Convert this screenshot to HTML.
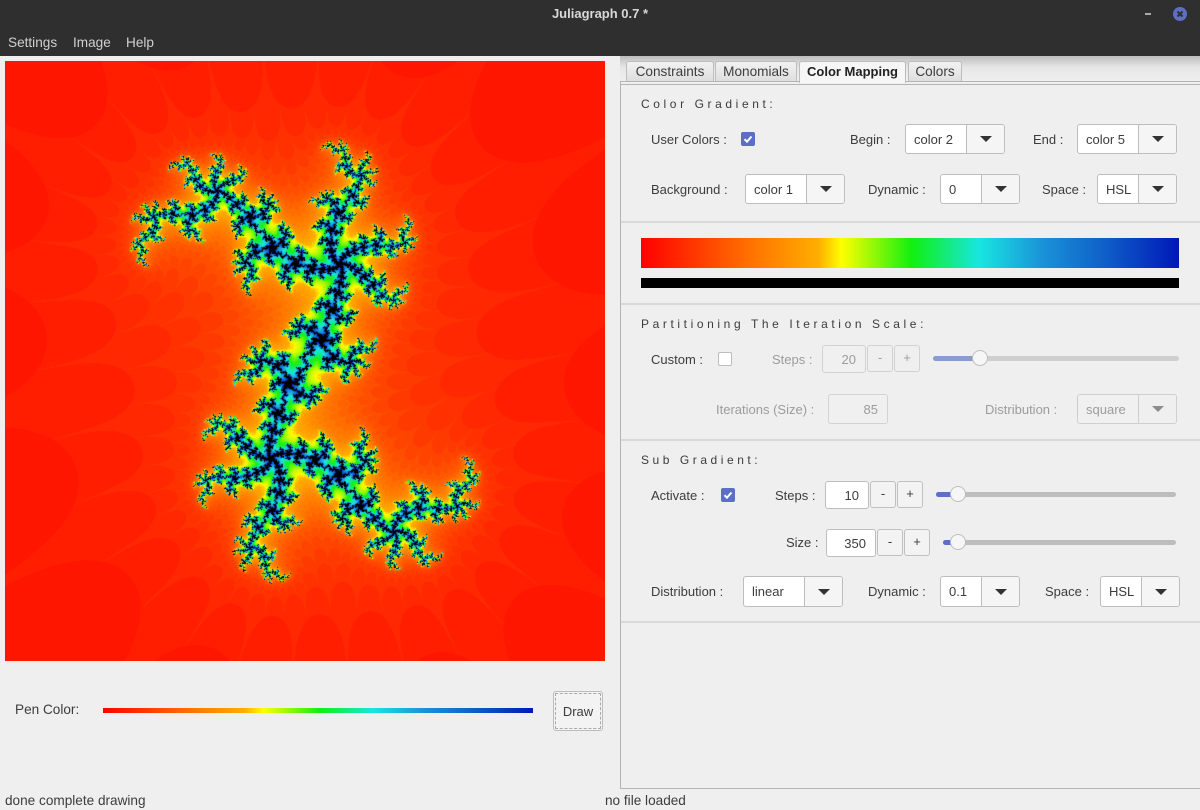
<!DOCTYPE html>
<html><head><meta charset="utf-8"><title>Juliagraph</title>
<style>
html,body{margin:0;padding:0;background:#efefef;width:1200px;height:810px;overflow:hidden}
body{position:relative;font-family:"Liberation Sans","DejaVu Sans",sans-serif;font-size:13px;color:#3c3c3c}
.a{position:absolute}
.t{position:absolute;white-space:nowrap;line-height:16px;transform:translateY(-7px)}
.g{color:#9c9c9c}
.h{position:absolute;white-space:nowrap;line-height:16px;transform:translateY(-7px);left:641px;color:#3c3c3c;font-size:12px}
.sep{position:absolute;left:621px;width:579px;height:2px;background:#d9d9d9}
.combo{position:absolute;box-sizing:border-box;border:1px solid #bdbdbd;border-radius:3px;background:#fff;line-height:30px;padding-left:8px;overflow:hidden}
.combo i{position:absolute;top:0;bottom:0;right:0;background:#f5f5f5;border-left:1px solid #bdbdbd}
.combo i:after{content:"";position:absolute;left:50%;top:50%;margin:-3px 0 0 -6px;border:6px solid transparent;border-top:6px solid #333;border-bottom:0}
.combo.d{background:#f0f0f0;color:#9c9c9c;border-color:#cfcfcf}
.combo.d i{background:#efefef;border-color:#cfcfcf}
.combo.d i:after{border-top-color:#8c8c8c}
.inp{position:absolute;box-sizing:border-box;border:1px solid #bdbdbd;border-radius:3px;background:#fff;text-align:right;padding-right:9px;line-height:28px}
.inp.d{background:#f0f0f0;color:#9c9c9c;border-color:#d2d2d2}
.btn{position:absolute;box-sizing:border-box;border:1px solid #c0c0c0;border-radius:3px;background:#f3f3f3;text-align:center;line-height:23px}
.btn.d{color:#9c9c9c;border-color:#d2d2d2;background:#efefef}
.tab{position:absolute;top:61px;height:20px;box-sizing:border-box;border:1px solid #bdbdbd;border-bottom:0;border-radius:3px 3px 0 0;background:linear-gradient(#f2f2f2,#dedede);text-align:center;line-height:19px}
.grv{position:absolute;height:5px;border-radius:3px}
.knob{position:absolute;box-sizing:border-box;width:16px;height:16px;border-radius:50%;background:#f6f6f6;border:1px solid #bdbdbd}
.chk{position:absolute;width:14px;height:14px;box-sizing:border-box;border-radius:2px}
.chk.on{background:#5c6fc4}
.chk.off{background:#fff;border:1px solid #bdbdbd}
.grad{background:linear-gradient(90deg,#ff0000 0,#ff7000 20%,#ffae00 33%,#ffff00 37.3%,#10f010 50.4%,#18e6e0 62.8%,#1a90d8 75%,#0f60c8 86%,#0018b8 100%)}
.m{font-size:13.6px}
</style></head>
<body>

<div class="a" style="left:0;top:0;width:1200px;height:56px;background:#2f2f2f"></div>
<div class="t" style="left:0;width:1200px;text-align:center;top:13px;color:#d8d8d8;font-weight:bold">Juliagraph 0.7 *</div>
<div class="a" style="left:1145px;top:13px;width:6px;height:2px;background:#aaa"></div>
<svg class="a" style="left:1172px;top:6px" width="16" height="16"><circle cx="8" cy="8" r="7" fill="#5c6fc4"/><path d="M5.5 5.5L10.5 10.5M10.5 5.5L5.5 10.5" stroke="#2f2f2f" stroke-width="2"/></svg>
<div class="t m" style="left:8px;top:42px;color:#d0d0d0">Settings</div>
<div class="t m" style="left:73px;top:42px;color:#d0d0d0">Image</div>
<div class="t m" style="left:126px;top:42px;color:#d0d0d0">Help</div>

<canvas id="fractal" class="a" style="left:5px;top:61px" width="600" height="600"></canvas>

<div class="t m" style="left:15px;top:709px">Pen Color:</div>
<div class="a grad" style="left:103px;top:708px;width:430px;height:5px"></div>
<div class="a" style="left:553px;top:691px;width:50px;height:40px;box-sizing:border-box;border:1px solid #bdbdbd;border-radius:3px;background:#f3f3f3;text-align:center;line-height:40px;outline:1px dashed #aaa;outline-offset:-3px">Draw</div>
<div class="t m" style="left:5px;top:800px">done complete drawing</div>
<div class="t m" style="left:605px;top:800px">no file loaded</div>

<div class="a" style="left:620px;top:56px;width:580px;height:25px;background:linear-gradient(#bdbdbd,#e6e6e6 45%,#efefef)"></div>
<div class="a" style="left:620px;top:81px;width:580px;height:708px;box-sizing:border-box;border:1px solid #b4b4b4;border-right:0"></div>
<div class="a" style="left:620px;top:84px;width:580px;height:1px;background:#b4b4b4"></div>
<div class="tab m" style="left:626px;width:88px">Constraints</div>
<div class="tab m" style="left:715px;width:82px">Monomials</div>
<div class="tab" style="left:799px;width:107px;background:#f6f6f6;font-weight:bold;color:#222;height:22px">Color Mapping</div>
<div class="tab m" style="left:908px;width:54px">Colors</div>

<div class="h" style="top:103px;letter-spacing:3.6px">Color Gradient:</div>
<div class="t" style="left:651px;top:139px">User Colors :</div>
<svg class="chk on" style="left:741px;top:132px" viewBox="0 0 14 14"><path d="M3.5 7.2L6 9.7L10.5 4.5" fill="none" stroke="#fff" stroke-width="2"/></svg>
<div class="t" style="left:850px;top:139px">Begin :</div>
<div class="combo" style="left:905px;top:124px;width:100px;height:30px">color 2<i style="width:37px"></i></div>
<div class="t" style="left:1033px;top:139px">End :</div>
<div class="combo" style="left:1077px;top:124px;width:100px;height:30px">color 5<i style="width:37px"></i></div>
<div class="t" style="left:651px;top:189px">Background :</div>
<div class="combo" style="left:745px;top:174px;width:100px;height:30px">color 1<i style="width:37px"></i></div>
<div class="t" style="left:868px;top:189px">Dynamic :</div>
<div class="combo" style="left:940px;top:174px;width:80px;height:30px">0<i style="width:37px"></i></div>
<div class="t" style="left:1042px;top:189px">Space :</div>
<div class="combo" style="left:1097px;top:174px;width:80px;height:30px">HSL<i style="width:37px"></i></div>
<div class="sep" style="top:221px"></div>
<div class="a grad" style="left:641px;top:238px;width:538px;height:30px"></div>
<div class="a" style="left:641px;top:278px;width:538px;height:10px;background:#000"></div>
<div class="sep" style="top:303px"></div>

<div class="h" style="top:323px;letter-spacing:3.6px">Partitioning The Iteration Scale:</div>
<div class="t" style="left:651px;top:359px">Custom :</div>
<div class="chk off" style="left:718px;top:352px"></div>
<div class="t g" style="left:772px;top:359px">Steps :</div>
<div class="inp d" style="left:822px;top:345px;width:44px;height:28px">20</div>
<div class="btn d" style="left:867px;top:345px;width:26px;height:27px">-</div>
<div class="btn d" style="left:894px;top:345px;width:26px;height:27px">+</div>
<div class="grv" style="left:933px;top:356px;width:246px;background:#cfcfcf"></div>
<div class="grv" style="left:933px;top:356px;width:47px;background:#8a9bd0"></div>
<div class="knob" style="left:972px;top:350px"></div>
<div class="t g" style="left:716px;top:409px">Iterations (Size) :</div>
<div class="inp d" style="left:828px;top:394px;width:60px;height:30px;line-height:30px">85</div>
<div class="t g" style="left:985px;top:409px">Distribution :</div>
<div class="combo d" style="left:1077px;top:394px;width:100px;height:30px">square<i style="width:37px"></i></div>
<div class="sep" style="top:439px"></div>

<div class="h" style="top:459px;letter-spacing:3.55px">Sub Gradient:</div>
<div class="t" style="left:651px;top:495px">Activate :</div>
<svg class="chk on" style="left:721px;top:488px" viewBox="0 0 14 14"><path d="M3.5 7.2L6 9.7L10.5 4.5" fill="none" stroke="#fff" stroke-width="2"/></svg>
<div class="t" style="left:775px;top:495px">Steps :</div>
<div class="inp" style="left:825px;top:481px;width:44px;height:28px">10</div>
<div class="btn" style="left:870px;top:481px;width:26px;height:27px">-</div>
<div class="btn" style="left:897px;top:481px;width:26px;height:27px">+</div>
<div class="grv" style="left:936px;top:492px;width:240px;background:#bdbdbd"></div>
<div class="grv" style="left:936px;top:492px;width:22px;background:#5c6fc4"></div>
<div class="knob" style="left:950px;top:486px"></div>
<div class="t" style="left:786px;top:542px">Size :</div>
<div class="inp" style="left:826px;top:529px;width:50px;height:28px">350</div>
<div class="btn" style="left:877px;top:529px;width:26px;height:27px">-</div>
<div class="btn" style="left:904px;top:529px;width:26px;height:27px">+</div>
<div class="grv" style="left:943px;top:540px;width:233px;background:#bdbdbd"></div>
<div class="grv" style="left:943px;top:540px;width:15px;background:#5c6fc4"></div>
<div class="knob" style="left:950px;top:534px"></div>
<div class="t" style="left:651px;top:591px">Distribution :</div>
<div class="combo" style="left:743px;top:576px;width:100px;height:31px">linear<i style="width:37px"></i></div>
<div class="t" style="left:868px;top:591px">Dynamic :</div>
<div class="combo" style="left:940px;top:576px;width:80px;height:31px">0.1<i style="width:37px"></i></div>
<div class="t" style="left:1045px;top:591px">Space :</div>
<div class="combo" style="left:1100px;top:576px;width:80px;height:31px">HSL<i style="width:37px"></i></div>
<div class="sep" style="top:621px"></div>

<script>
const gradientPositions=[0,.2,.33,.373,.504,.628,.75,.86,1];
const gradientReds=[255,255,255,255,16,24,26,15,0];
const gradientGreens=[0,112,174,255,240,230,144,96,24];
const gradientBlues=[0,0,0,0,16,224,216,200,184];
const juliaReal=0.41, juliaImag=0.325, pixelsPerUnit=190;
const maxIter=50, escapeExponent=1.15, escapeRealLimit=30;
function color(t){
  let i=0; while(i<gradientPositions.length-2&&t>gradientPositions[i+1])i++;
  const f=Math.min(1,(t-gradientPositions[i])/(gradientPositions[i+1]-gradientPositions[i]));
  return [gradientReds[i]+(gradientReds[i+1]-gradientReds[i])*f,
          gradientGreens[i]+(gradientGreens[i+1]-gradientGreens[i])*f,
          gradientBlues[i]+(gradientBlues[i+1]-gradientBlues[i])*f];
}
function drawJulia(ctx,w,h,scale,cr,ci){
  const img=ctx.createImageData(w,h),d=img.data;
  for(let py=0;py<h;py++)for(let px=0;px<w;px++){
    let x=(px-w/2)/scale,y=(h/2-py)/scale,n=0;
    while(n<maxIter&&Math.abs(x)<escapeRealLimit&&Math.abs(y)<1e6){const t=x*x-y*y+cr;y=2*x*y+ci;x=t;n++;}
    const k=(py*w+px)*4;
    if(n>=maxIter){d[k]=d[k+1]=d[k+2]=0;}
    else{const c=color(Math.pow(n/maxIter,escapeExponent));d[k]=c[0];d[k+1]=c[1];d[k+2]=c[2];}
    d[k+3]=255;
  }
  ctx.putImageData(img,0,0);
}
drawJulia(document.getElementById('fractal').getContext('2d'),600,600,pixelsPerUnit,juliaReal,juliaImag);
</script>
</body></html>
